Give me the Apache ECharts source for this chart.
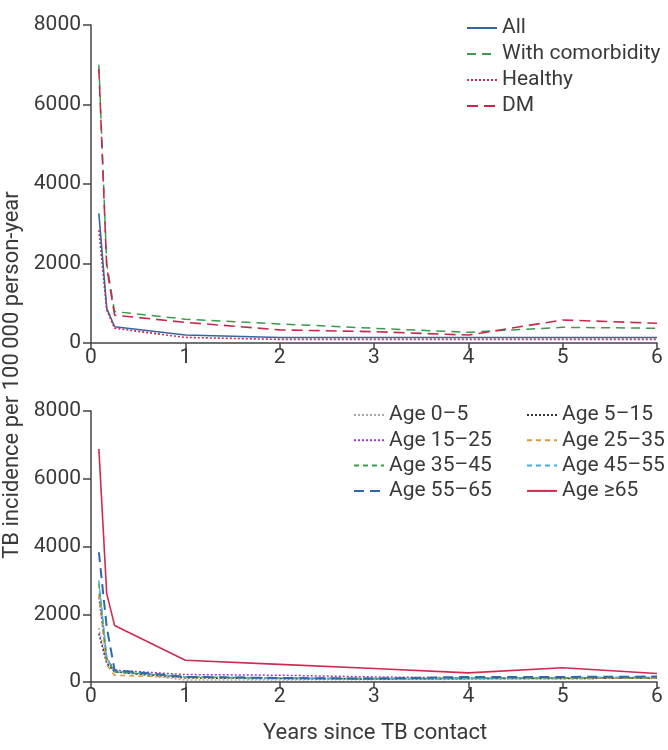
<!DOCTYPE html>
<html><head><meta charset="utf-8">
<script src="https://cdn.jsdelivr.net/npm/echarts@6/dist/echarts.min.js"></script>
<style>html,body{margin:0;padding:0;background:#fff}#c{width:668px;height:750px}</style>
</head><body><div id="c"></div>
<script>
// Years since TB contact (1, 2, 3 months, then yearly)
var years = [1/12, 2/12, 0.25, 1, 2, 3, 4, 5, 6];
var xTicks = [0, 1, 2, 3, 4, 5, 6];
var yTicks = [0, 2000, 4000, 6000, 8000];

// Top panel
var topNames = ['All', 'With comorbidity', 'Healthy', 'DM'];
var allVals      = [3260, 870, 410, 200, 140, 140, 140, 140, 140];
var comorbVals   = [7000, 2000, 790, 600, 480, 370, 270, 395, 370];
var healthyVals  = [2840, 830, 370, 140, 90, 90, 90, 90, 90];
var dmVals       = [6900, 1900, 700, 520, 330, 285, 200, 580, 495];

// Bottom panel
var ageNames = ['Age 0\u20135', 'Age 5\u201315', 'Age 15\u201325', 'Age 25\u201335', 'Age 35\u201345', 'Age 45\u201355', 'Age 55\u201365', 'Age \u226565'];
var age0_5   = [1600, 600, 300, 60, 60, 70, 80, 100, 120];
var age5_15  = [1430, 550, 300, 120, 100, 90, 100, 100, 120];
var age15_25 = [2500, 700, 350, 220, 200, 150, 120, 120, 130];
var age25_35 = [2600, 500, 200, 130, 110, 100, 100, 100, 120];
var age35_45 = [2900, 700, 300, 150, 120, 100, 110, 120, 130];
var age45_55 = [3000, 700, 320, 150, 120, 100, 110, 130, 150];
var age55_65 = [3830, 1620, 350, 150, 120, 100, 150, 150, 160];
var age65    = [6880, 2610, 1670, 640, 520, 400, 270, 420, 250];

function pairs(v){ return years.map(function(x,i){ return [x, v[i]]; }); }

var txt = '#3a3a3a';
var font = 'Roboto, "DejaVu Sans", sans-serif';

function xAxisCfg(idx){
  return {
    type: 'value', gridIndex: idx, min: xTicks[0], max: xTicks[xTicks.length-1], interval: 1,
    axisLine: {show: true, onZero: false, lineStyle: {color: '#444', width: 1.5}},
    axisTick: {show: true, length: 6, lineStyle: {color: '#444', width: 1.5}},
    axisLabel: {color: txt, fontSize: 21, fontFamily: font, margin: 4},
    splitLine: {show: false}
  };
}
function yAxisCfg(idx){
  return {
    type: 'value', gridIndex: idx, min: yTicks[0], max: yTicks[yTicks.length-1], interval: 2000,
    axisLine: {show: true, lineStyle: {color: '#444', width: 1.5}},
    axisTick: {show: true, length: 8, lineStyle: {color: '#444', width: 1.5}},
    axisLabel: {color: txt, fontSize: 21, fontFamily: font, margin: 10, formatter: function(v){ return String(v); }},
    splitLine: {show: false}
  };
}
function ser(name, vals, xi, color, type, width){
  return {
    name: name, type: 'line', xAxisIndex: xi, yAxisIndex: xi, data: pairs(vals),
    symbol: 'none', showSymbol: false, animation: false,
    lineStyle: {color: color, type: type, width: width || 1.5},
    itemStyle: {color: color}
  };
}

var chart = echarts.init(document.getElementById('c'), null, {renderer: 'canvas'});
var legendText = {color: txt, fontSize: 21, fontFamily: font, lineHeight: 22};
var legendItem = {opacity: 0};
chart.setOption({
  animation: false,
  backgroundColor: '#fff',
  grid: [
    {left: 91, right: 11, top: 25, height: 318},
    {left: 91, right: 11, top: 411, height: 271}
  ],
  xAxis: [xAxisCfg(0), xAxisCfg(1)],
  yAxis: [yAxisCfg(0), yAxisCfg(1)],
  legend: [
    {data: topNames, orient: 'vertical', left: 466, top: 17, padding: 0, itemWidth: 30, itemHeight: 14, itemGap: 4, textStyle: legendText, itemStyle: legendItem},
    {data: [ageNames[0], ageNames[2], ageNames[4], ageNames[6]], orient: 'vertical', left: 353, top: 404, padding: 0, itemWidth: 30, itemHeight: 14, itemGap: 3.3, textStyle: legendText, itemStyle: legendItem},
    {data: [ageNames[1], ageNames[3], ageNames[5], ageNames[7]], orient: 'vertical', left: 526, top: 404, padding: 0, itemWidth: 30, itemHeight: 14, itemGap: 3.3, textStyle: legendText, itemStyle: legendItem}
  ],
  graphic: [
    {type: 'text', left: 1, top: 'middle', rotation: Math.PI/2,
     style: {text: 'TB incidence per 100\u2009000 person-year', fill: txt, font: '22px ' + font}},
    {type: 'text', left: 263, top: 722,
     style: {text: 'Years since TB contact', fill: txt, font: '22px ' + font}}
  ],
  series: [
    ser(topNames[0], allVals, 0, '#3467a0', 'solid', 1.6),
    ser(topNames[1], comorbVals, 0, '#3c9a4c', [9, 6], 1.5),
    ser(topNames[2], healthyVals, 0, '#c8285a', [2, 2], 1.6),
    ser(topNames[3], dmVals, 0, '#c8284e', [11, 6], 1.6),
    ser(ageNames[0], age0_5, 1, '#a8a8a8', [2, 2], 1.5),
    ser(ageNames[1], age5_15, 1, '#333333', [2, 2], 1.5),
    ser(ageNames[2], age15_25, 1, '#9b3fb5', [2, 2], 1.5),
    ser(ageNames[3], age25_35, 1, '#e0963a', [5, 4], 1.5),
    ser(ageNames[4], age35_45, 1, '#3c9a4c', [5, 4], 1.5),
    ser(ageNames[5], age45_55, 1, '#46acd8', [5, 4], 1.5),
    ser(ageNames[6], age55_65, 1, '#2f6aa8', [10, 6], 2),
    ser(ageNames[7], age65, 1, '#cf2a50', 'solid', 1.6)
  ]
});
</script></body></html>
